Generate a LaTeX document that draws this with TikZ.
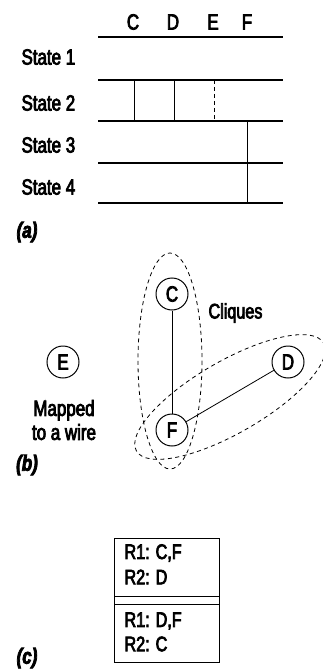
\documentclass[tikz,border=0pt]{standalone}
\usepackage{fontspec}
\setmainfont{Liberation Sans}[FakeStretch=0.77, FakeBold=3.5]
\usetikzlibrary{positioning}

\begin{document}
\begin{tikzpicture}[x=1pt,y=-1pt]
\tikzset{
    state label/.style={
       font=\fontsize{22}{24}\selectfont,
       anchor=west
    },
    col label/.style={
       font=\fontsize{22}{24}\selectfont
    },
    part label/.style={
       font=\fontsize{22}{24}\selectfont\bfseries\itshape
    },
    var/.style={
       circle, draw, line width=1pt, minimum size=32pt, inner sep=0pt,
       font=\fontsize{22}{24}\selectfont
    },
    clique/.style={
       line width=0.8pt, dash pattern=on 4pt off 3.5pt
    },
    reg/.style={
       font=\fontsize{21}{23}\selectfont, anchor=west
    }
}
\useasboundingbox (0,0) rectangle (323,671);
%
% (a) states against variables
\foreach \y in {37,80,121,163,203}
   \draw[line width=1.2pt] (98,\y) -- (283,\y);
\node[col label] (cC) at (133,22) {C};
\node[col label] (cD) at (173,22) {D};
\node[col label] (cE) at (213,22) {E};
\node[col label] (cF) at (247,22) {F};
\node[state label] (s1) at (18,57) {State 1};
\node[state label] (s2) at (18,103) {State 2};
\node[state label] (s3) at (18,145) {State 3};
\node[state label] (s4) at (18,187) {State 4};
\draw[line width=0.8pt] (134,80) -- (134,121);
\draw[line width=0.8pt] (174,80) -- (174,121);
\draw[line width=0.8pt, dash pattern=on 4pt off 3pt] (214,80) -- (214,121);
\draw[line width=0.8pt] (247,121) -- (247,203);
\node[part label] (la) at (27,232) {(a)};
%
% (b) conflict graph
\node[var] (C) at (172,294) {C};
\node[var] (E) at (63,362) {E};
\node[var] (D) at (288,362) {D};
\node[var] (F) at (172,430) {F};
\draw[line width=0.8pt] (C) -- (F);
\draw[line width=0.8pt] (F) -- (D);
\draw[clique] (170,361) ellipse [x radius=32, y radius=108];
\draw[clique, rotate around={30:(230,397)}] (230,397) ellipse [x radius=108, y radius=36];
\node[reg] (cl) at (205,313) {Cliques};
\node[col label, align=center] (wire) at (64,420) {Mapped\\to a wire};
\node[part label] (lb) at (27,465) {(b)};
%
% (c) register assignments
\draw[line width=1pt] (114,538) rectangle (219,662);
\draw[line width=1pt] (114,596) -- (219,596);
\draw[line width=1pt] (114,604) -- (219,604);
\node[reg] (r1) at (121,553) {R1: C,F};
\node[reg] (r2) at (121,577) {R2: D};
\node[reg] (r3) at (121,621) {R1: D,F};
\node[reg] (r4) at (121,644) {R2: C};
\node[part label] (lc) at (27,658) {(c)};
%\draw[red] (0,0) grid[step=50] (323,671);
\end{tikzpicture}
\end{document}
